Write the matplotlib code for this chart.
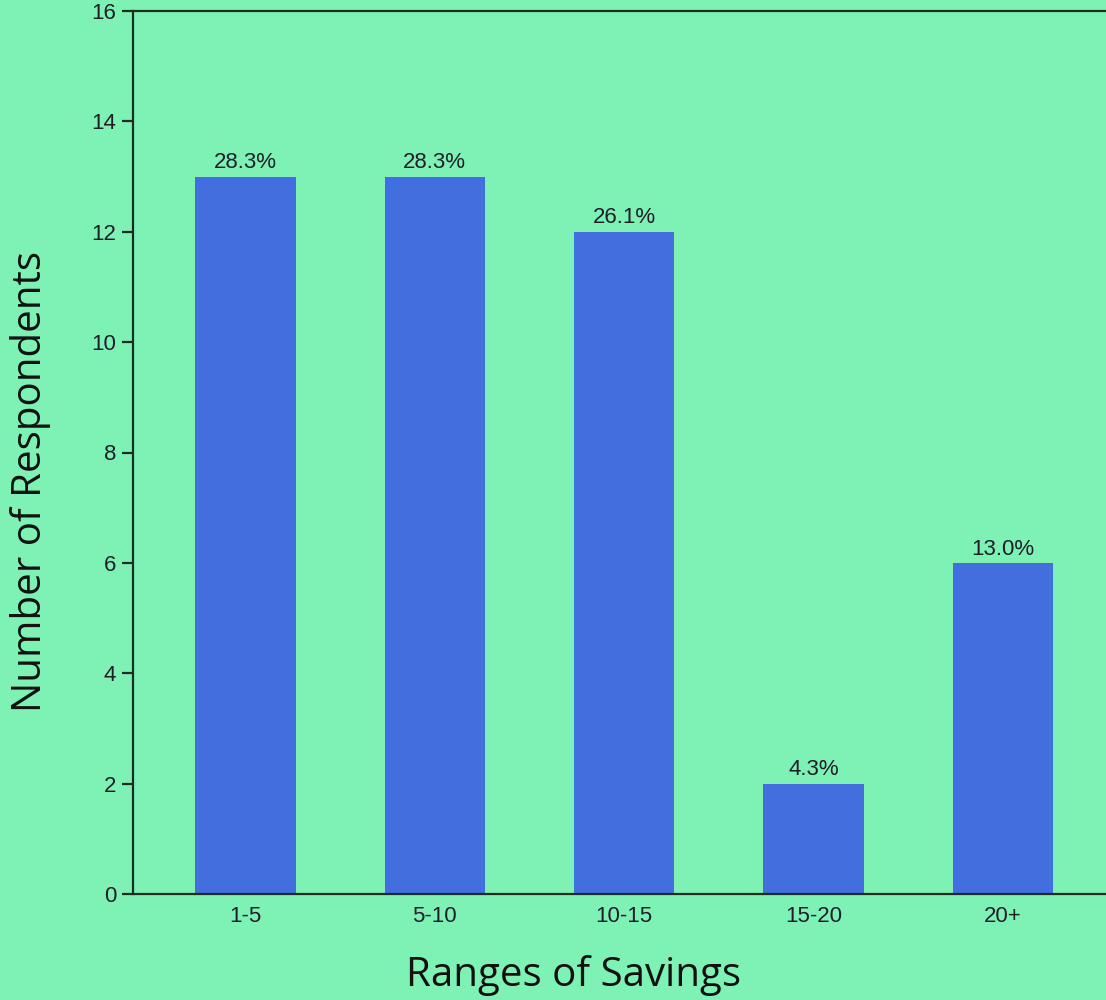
import matplotlib
matplotlib.use("Agg")
import matplotlib.pyplot as plt

categories = ["1-5", "5-10", "10-15", "15-20", "20+"]
counts = [13, 13, 12, 2, 6]
percent_labels = ["28.3%", "28.3%", "26.1%", "4.3%", "13.0%"]
y_ticks = [0, 2, 4, 6, 8, 10, 12, 14, 16]

bg = "#7ef2b5"
bar_color = "#4170de"
line_color = "#1c2e24"
text_color = "#1e1e2a"

fig = plt.figure(figsize=(11.06, 10.0), dpi=100)
fig.patch.set_facecolor(bg)
ax = fig.add_axes([133/1106, 106/1000, 1 - 133/1106 + 0.001, (894-11)/1000])
ax.set_facecolor(bg)

x = list(range(len(categories)))
ax.bar(x, counts, width=0.53, color=bar_color, zorder=2)
for xi, c, lab in zip(x, counts, percent_labels):
    ax.text(xi, c + 0.06, lab, ha="center", va="bottom",
            fontsize=16, family="Liberation Sans", color=text_color)

ax.set_xlim(-0.593, 4.55)
ax.set_ylim(0, 16)
ax.set_yticks(y_ticks)
ax.set_xticks(x)
ax.set_xticklabels(categories)

ax.spines["right"].set_visible(False)
for s in ["left", "top", "bottom"]:
    ax.spines[s].set_color(line_color)
    ax.spines[s].set_linewidth(1.6)

ax.tick_params(axis="y", length=8, width=1.6, color=line_color, pad=4,
               labelsize=16, labelcolor=text_color)
ax.tick_params(axis="x", length=0, pad=9, labelsize=16, labelcolor=text_color)
for t in ax.get_xticklabels() + ax.get_yticklabels():
    t.set_family("Liberation Sans")

fig.text(31/1106, 1 - 482/1000, "Number of Respondents", rotation=90,
         ha="center", va="center", fontsize=29, family="Open Sans", color="#111111")
fig.text(573/1106, 1 - 975/1000, "Ranges of Savings",
         ha="center", va="center", fontsize=29, family="Open Sans", color="#111111")

fig.savefig("out.png", dpi=100, facecolor=bg)
